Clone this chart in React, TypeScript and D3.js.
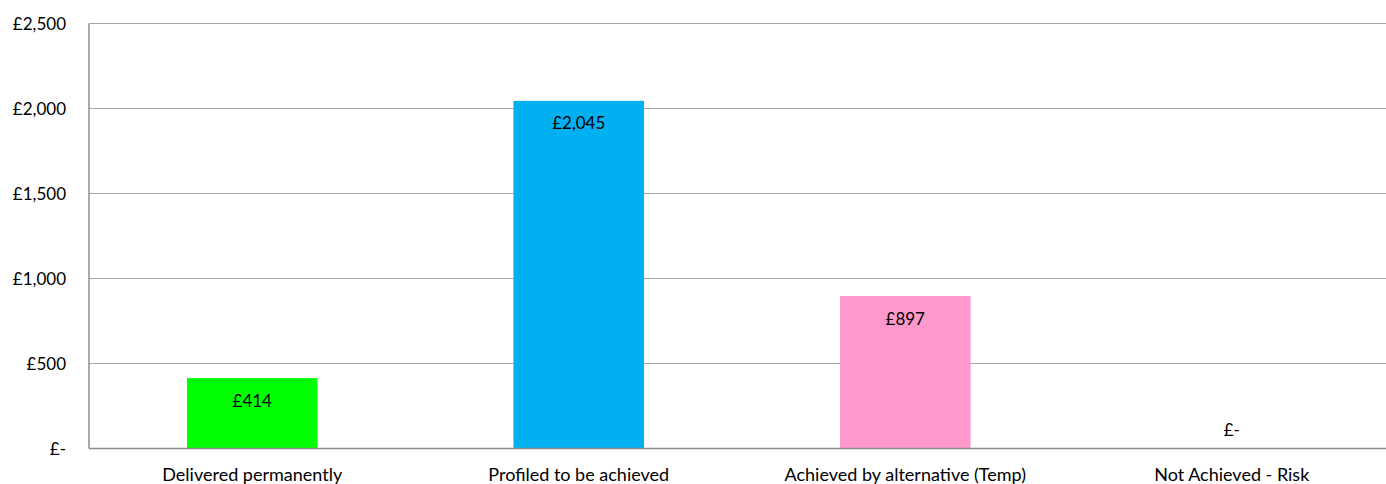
import React from "react";
import * as d3 from "d3";

const categories = ["Delivered permanently", "Profiled to be achieved", "Achieved by alternative (Temp)", "Not Achieved - Risk"];
const values = [414, 2045, 897, 0];
const colors = ["#00ff00", "#00b0f0", "#ff99cc", "#cccccc"];
const yTicks = [0, 500, 1000, 1500, 2000, 2500];

const W = 1386, H = 484;
const left = 89, right = 1395, top = 23.5, bottom = 448.5;
const font = "Lato, 'Open Sans', sans-serif";
const fs = 17;

const fmt = (v: number) => (v === 0 ? "£-" : "£" + d3.format(",")(v));

export default function App() {
  const x = d3.scaleBand<string>().domain(categories).range([left, right]).paddingInner(0.6).paddingOuter(0.3);
  const y = d3.scaleLinear().domain([0, 2500]).range([bottom, top]);
  return (
    <svg width={W} height={H} style={{ position: "absolute", left: 0, top: 0, background: "#fff" }}>
      {yTicks.map((t) => (
        <g key={t}>
          {t > 0 && <line x1={left} x2={W} y1={y(t)} y2={y(t)} stroke="#a6a6a6" strokeWidth={1} />}
          <text x={66} y={y(t)} textAnchor="end" dominantBaseline="central" fontFamily={font} fontSize={fs} fill="#000">
            {fmt(t)}
          </text>
        </g>
      ))}
      {categories.map((c, i) => {
        const bx = x(c)!;
        const bw = x.bandwidth();
        const cx = bx + bw / 2;
        return (
          <g key={c}>
            {values[i] > 0 && <rect x={bx} y={y(values[i])} width={bw} height={bottom - y(values[i])} fill={colors[i]} />}
            <text x={cx} y={y(values[i]) + (values[i] > 0 ? 22 : -19)} textAnchor="middle" dominantBaseline="central" fontFamily={font} fontSize={fs} fill="#000">
              {fmt(values[i])}
            </text>
            <text x={cx} y={474} textAnchor="middle" dominantBaseline="central" fontFamily={font} fontSize={18} fill="#000">
              {c}
            </text>
          </g>
        );
      })}
      <line x1={left} x2={W} y1={bottom} y2={bottom} stroke="#8c8c8c" strokeWidth={1.5} />
      <line x1={left} x2={left} y1={top} y2={bottom} stroke="#8c8c8c" strokeWidth={1.5} />
    </svg>
  );
}
